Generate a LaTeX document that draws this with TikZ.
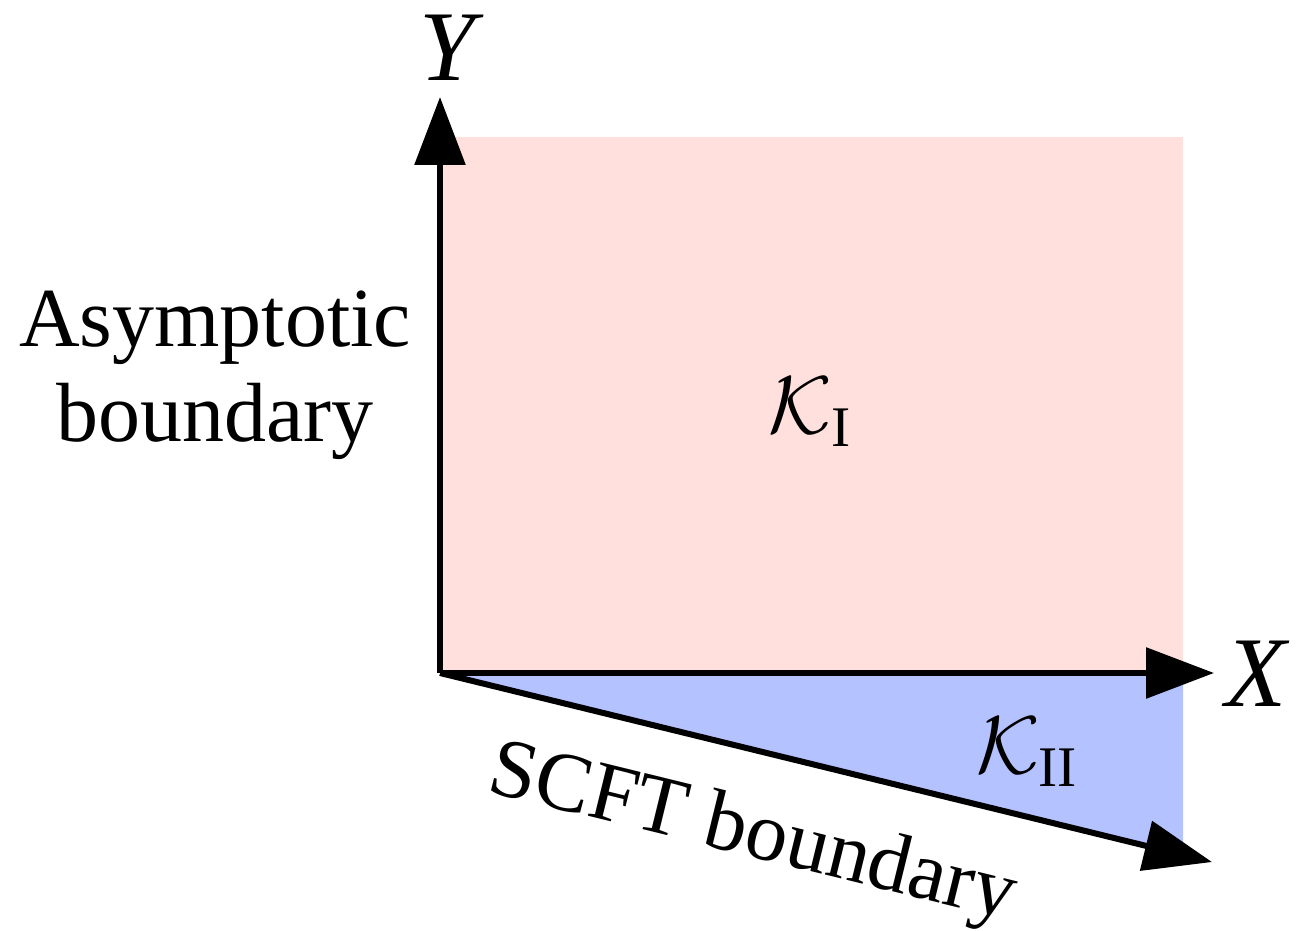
\RequirePackage{fix-cm}
\documentclass[tikz,border=0pt]{standalone}
\usepackage{fontspec}
\setmainfont{Liberation Serif}
\usetikzlibrary{arrows.meta}
\definecolor{regionI}{RGB}{255,224,220}
\definecolor{regionII}{RGB}{180,194,255}
\tikzset{
  axis/.style={line width=6pt, -{Triangle[length=68pt,width=50pt]}},
  biglabel/.style={font=\fontsize{84}{95}\selectfont, align=center, inner sep=0pt},
  axlabel/.style={font=\fontsize{100}{110}\selectfont\itshape, inner sep=0pt},
  reglabel/.style={font=\fontsize{82}{95}\selectfont, inner sep=0pt}
}
\begin{document}
\begin{tikzpicture}[x=1pt,y=-1pt]
\useasboundingbox (0,0) rectangle (1299,931);
\coordinate (O) at (440,673);
\coordinate (Ytip) at (440,97);
\coordinate (Xtip) at (1214,673);
\coordinate (Dtip) at (1212,862);
\coordinate (C1) at (1183,137);
\coordinate (C2) at (1183,673);
\coordinate (C3) at (1183,855);
\fill[regionI] (O) rectangle (C1);
\fill[regionII] (O) -- (C2) -- (C3) -- cycle;
\draw[axis] (O) -- (Ytip);
\draw[axis] (O) -- (Xtip);
\draw[axis] (O) -- (Dtip);
\node[axlabel] (Y) at (447,48) {Y};
\node[axlabel] (X) at (1256,674) {X};
\node[biglabel] (asym) at (215,375) {Asymptotic\\boundary};
\node[reglabel] (K1) at (810,412) {$\mathcal{K}_{\mathrm{I}}$};
\node[reglabel] (K2) at (1027,752) {$\mathcal{K}_{\mathrm{II}}$};
\node[biglabel, rotate=-13.8] (scft) at (752,836) {SCFT boundary};
\end{tikzpicture}
\end{document}
